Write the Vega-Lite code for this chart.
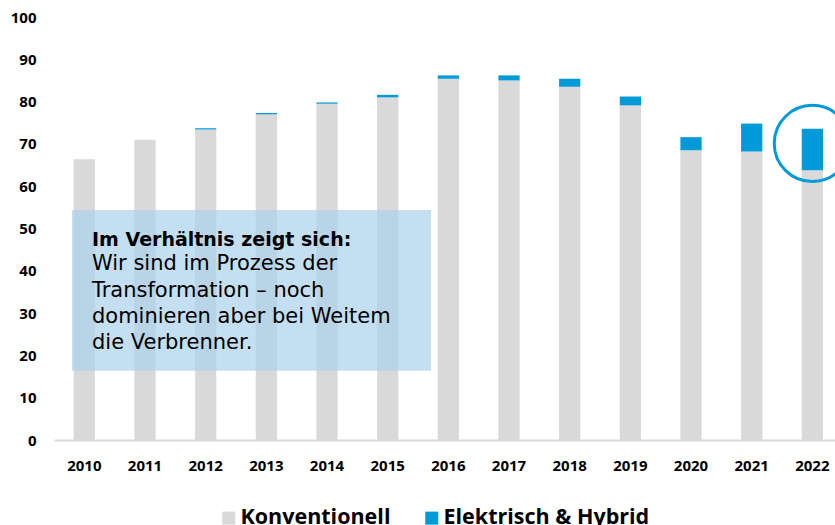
{
  "$schema": "https://vega.github.io/schema/vega-lite/v6.json",
  "width": 781,
  "height": 423,
  "autosize": {"type": "none"},
  "padding": {"left": 54, "top": 17, "right": 0, "bottom": 85},
  "background": "white",
  "config": {
    "view": {"stroke": null},
    "font": "Open Sans",
    "axis": {"grid": false, "ticks": false, "title": null}
  },
  "datasets": {
    "cars": [
      {"year": "2010", "type": "Konventionell", "value": 66.4},
      {"year": "2010", "type": "Elektrisch & Hybrid", "value": 0},
      {"year": "2011", "type": "Konventionell", "value": 71.0},
      {"year": "2011", "type": "Elektrisch & Hybrid", "value": 0},
      {"year": "2012", "type": "Konventionell", "value": 73.4},
      {"year": "2012", "type": "Elektrisch & Hybrid", "value": 0.3},
      {"year": "2013", "type": "Konventionell", "value": 77.0},
      {"year": "2013", "type": "Elektrisch & Hybrid", "value": 0.3},
      {"year": "2014", "type": "Konventionell", "value": 79.5},
      {"year": "2014", "type": "Elektrisch & Hybrid", "value": 0.3},
      {"year": "2015", "type": "Konventionell", "value": 81.0},
      {"year": "2015", "type": "Elektrisch & Hybrid", "value": 0.6},
      {"year": "2016", "type": "Konventionell", "value": 85.4},
      {"year": "2016", "type": "Elektrisch & Hybrid", "value": 0.8},
      {"year": "2017", "type": "Konventionell", "value": 85.0},
      {"year": "2017", "type": "Elektrisch & Hybrid", "value": 1.2},
      {"year": "2018", "type": "Konventionell", "value": 83.5},
      {"year": "2018", "type": "Elektrisch & Hybrid", "value": 1.9},
      {"year": "2019", "type": "Konventionell", "value": 79.1},
      {"year": "2019", "type": "Elektrisch & Hybrid", "value": 2.1},
      {"year": "2020", "type": "Konventionell", "value": 68.5},
      {"year": "2020", "type": "Elektrisch & Hybrid", "value": 3.1},
      {"year": "2021", "type": "Konventionell", "value": 68.2},
      {"year": "2021", "type": "Elektrisch & Hybrid", "value": 6.6},
      {"year": "2022", "type": "Konventionell", "value": 63.8},
      {"year": "2022", "type": "Elektrisch & Hybrid", "value": 9.8}
    ],
    "highlight": [{"year": "2022", "value": 70.1}],
    "box": [{"pos": 0.297, "pos2": 6.214, "top": 54.4, "bottom": 16.4}],
    "title": [{"pos": 0.626, "val": 47.28, "line": "Im Verhältnis zeigt sich:"}],
    "body": [
      {"pos": 0.626, "val": 41.61, "line": "Wir sind im Prozess der"},
      {"pos": 0.626, "val": 35.30, "line": "Transformation – noch"},
      {"pos": 0.626, "val": 29.15, "line": "dominieren aber bei Weitem"},
      {"pos": 0.626, "val": 23.00, "line": "die Verbrenner."}
    ]
  },
  "resolve": {"scale": {"x": "independent"}},
  "layer": [
    {
      "layer": [
        {
          "data": {"name": "cars"},
          "mark": {"type": "bar"},
          "encoding": {
            "x": {
              "field": "year", "type": "nominal",
              "scale": {"domain": ["2010","2011","2012","2013","2014","2015","2016","2017","2018","2019","2020","2021","2022"], "range": [0, 788.7], "paddingInner": 0.65, "paddingOuter": 0.325},
              "axis": {"labelAngle": 0, "labelFontSize": 15, "labelFontWeight": "bold", "labelColor": "#000000", "labelPadding": 18, "domainColor": "#d9d9d9", "domainWidth": 2}
            },
            "y": {
              "field": "value", "type": "quantitative", "stack": "zero",
              "scale": {"domain": [0, 100], "nice": false},
              "axis": {"values": [0,10,20,30,40,50,60,70,80,90,100], "domain": false, "labelFontSize": 15, "labelFontWeight": "bold", "labelColor": "#000000", "labelPadding": 18}
            },
            "color": {
              "field": "type", "type": "nominal",
              "sort": ["Konventionell", "Elektrisch & Hybrid"],
              "scale": {"domain": ["Konventionell", "Elektrisch & Hybrid"], "range": ["#d9d9d9", "#009ad9"]},
              "legend": {"title": null, "orient": "none", "direction": "horizontal", "legendX": 164, "legendY": 490, "symbolType": "square", "symbolSize": 169, "symbolStrokeWidth": 0, "labelFontSize": 21.5, "labelFontWeight": "bold", "labelColor": "#000000", "labelOffset": 1, "labelLimit": 400, "columnPadding": 30, "padding": 0}
            },
            "order": {"field": "type", "sort": "descending"}
          }
        },
        {
          "data": {"name": "highlight"},
          "mark": {"type": "point", "shape": "circle", "filled": false, "size": 5809, "stroke": "#009ad9", "strokeWidth": 3, "opacity": 1},
          "encoding": {
            "x": {"field": "year", "type": "nominal"},
            "y": {"field": "value", "type": "quantitative"}
          }
        }
      ]
    },
    {
      "layer": [
        {
          "data": {"name": "box"},
          "mark": {"type": "rect", "color": "#abd1eb", "opacity": 0.7},
          "encoding": {
            "x": {"field": "pos", "type": "quantitative", "scale": {"domain": [0, 13], "range": [0, 788.7], "nice": false, "zero": false}, "axis": null},
            "x2": {"field": "pos2"},
            "y": {"field": "top", "type": "quantitative"},
            "y2": {"field": "bottom"}
          }
        },
        {
          "data": {"name": "title"},
          "mark": {"type": "text", "align": "left", "baseline": "middle", "font": "DejaVu Sans", "fontSize": 19, "fontWeight": "bold", "color": "#000000"},
          "encoding": {
            "x": {"field": "pos", "type": "quantitative"},
            "y": {"field": "val", "type": "quantitative"},
            "text": {"field": "line"}
          }
        },
        {
          "data": {"name": "body"},
          "mark": {"type": "text", "align": "left", "baseline": "middle", "font": "DejaVu Sans", "fontSize": 21, "color": "#000000"},
          "encoding": {
            "x": {"field": "pos", "type": "quantitative"},
            "y": {"field": "val", "type": "quantitative"},
            "text": {"field": "line"}
          }
        }
      ]
    }
  ]
}
